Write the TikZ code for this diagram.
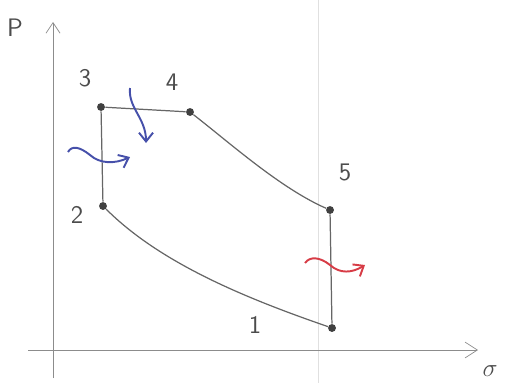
\documentclass[tikz,border=0pt]{standalone}
\usetikzlibrary{arrows.meta}
\definecolor{inkblue}{RGB}{70,80,170}
\definecolor{inkred}{RGB}{215,60,70}
\begin{document}
\begin{tikzpicture}[x=0.02cm,y=0.02cm,font=\Large\sffamily,
  pt/.style={circle,fill=black!75,inner sep=0pt,minimum size=4.5pt},
  curve/.style={black!60,line width=0.7pt},
  heat/.style={line width=1.1pt,-{Straight Barb[length=5pt,width=8pt]}}]
 \useasboundingbox (0,0) rectangle (509,383);
 % fold of the paper
 \draw[black!12] (318,0) -- (318,383);
 % axes
 \coordinate (yb) at (53,5); \coordinate (yt) at (53,361);
 \coordinate (xl) at (28,33); \coordinate (xr) at (478,33);
 \draw[black!45,-{Straight Barb[length=6pt,width=8pt]}] (yb) -- (yt);
 \draw[black!45,-{Straight Barb[length=7pt,width=9pt]}] (xl) -- (xr);
 \node[black!70] (plab) at (15,355) {P};
 \node[black!70] (vlab) at (490,12) {$\sigma$};
 % states
 \node[pt] (s1) at (332,55) {};
 \node[pt] (s2) at (103,177) {};
 \node[pt] (s3) at (101,276) {};
 \node[pt] (s4) at (190,271) {};
 \node[pt] (s5) at (330,173) {};
 \foreach \s/\x/\y in {1/255/58,2/77/168,3/85/305,4/172/301,5/345/211}{
  \node[black!70] (l\s) at (\x,\y) {\s};
 }
 % cycle
 \draw[curve] (s2) -- (s3) -- (s4);
 \draw[curve] (s4) .. controls (230,240) and (280,195) .. (s5);
 \draw[curve] (s5) -- (s1);
 \draw[curve] (s1) .. controls (245,85) and (160,120) .. (s2);
 % heat in and out
 \coordinate (qa) at (68,231); \coordinate (qb) at (130,226);
 \coordinate (qc) at (130,295); \coordinate (qd) at (146,240);
 \coordinate (qe) at (305,120); \coordinate (qf) at (365,118);
 \draw[heat,inkblue] (qa) .. controls (72,238) and (80,236) .. (90,228)
   .. controls (100,219) and (115,219) .. (qb);
 \draw[heat,inkblue] (qc) .. controls (128,275) and (146,265) .. (qd);
 \draw[heat,inkred] (qe) .. controls (310,127) and (320,126) .. (330,118)
   .. controls (340,109) and (352,110) .. (qf);
\end{tikzpicture}
\end{document}
